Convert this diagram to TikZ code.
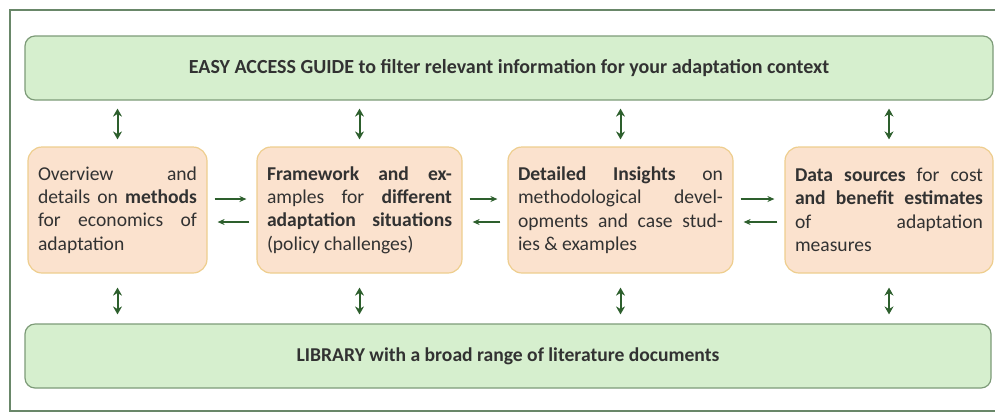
\documentclass[tikz,border=0pt]{standalone}
\usepackage{fontspec}
\setmainfont{Carlito}
\usepackage{tikz}
\usetikzlibrary{arrows.meta,positioning,calc}
\usepackage{xcolor}
\definecolor{gfill}{RGB}{214,239,206}
\definecolor{gborder}{RGB}{125,155,120}
\definecolor{ofill}{RGB}{251,226,206}
\definecolor{oborder}{RGB}{238,206,142}
\definecolor{agreen}{RGB}{45,95,45}
\definecolor{fgray}{RGB}{105,135,105}
\definecolor{tgray}{RGB}{50,50,50}

\begin{document}
\begin{tikzpicture}[x=0.5pt, y=-0.5pt,
    bar/.style={draw=gborder, fill=gfill, rounded corners=5pt, line width=0.6pt,
                minimum height=32pt, font=\fontsize{10}{12}\selectfont\bfseries, text=tgray},
    topic/.style={draw=oborder, fill=ofill, rounded corners=7pt, line width=0.6pt,
                  minimum height=63pt, inner xsep=5pt, align=justify,
                  font=\fontsize{9.8}{11.7}\selectfont, text=tgray},
    updown/.style={{Stealth[length=4pt,width=4.5pt]}-{Stealth[length=4pt,width=4.5pt]},
                   line width=1pt, agreen},
    flow/.style={-{Stealth[length=3.5pt,width=3pt]}, line width=0.6pt, agreen,
                 shorten <=3.5pt, shorten >=5pt}
]
\useasboundingbox (0,0) rectangle (995,414);

% outer frame (runs off the right edge)
\draw[fgray, line width=1pt] (1010,10) -- (10,10) -- (10,411) -- (1010,411);

% guide and library bars
\node[bar, minimum width=484pt] (guide) at (509,68)
    {EASY ACCESS GUIDE to filter relevant information for your adaptation context};
\node[bar, minimum width=483pt, font=\fontsize{9.8}{12}\selectfont\bfseries] (library) at (508,356)
    {LIBRARY with a broad range of literature documents};

% the four topics
\node[topic, text width=79.5pt] (methods) at (117.5,210)
    {Overview and\linebreak details on \textbf{methods}\linebreak
     for economics of\linebreak adaptation};
\node[topic, text width=92.5pt] (framework) at (359.5,210)
    {\textbf{Framework and ex-}\linebreak amples for \textbf{different}\linebreak
     \textbf{adaptation situations}\linebreak (policy challenges)};
\node[topic, text width=102.5pt] (insights) at (620.5,210)
    {\textbf{Detailed Insights} on\linebreak methodological devel-\linebreak
     opments and case stud-\linebreak ies \& examples};
\node[topic, text width=94pt] (data) at (889,210)
    {\textbf{Data sources} for cost\linebreak \textbf{and benefit estimates}\linebreak
     of adaptation\linebreak measures};

% links to guide and library
\foreach \t in {methods,framework,insights,data} {
  \draw[updown, shorten <=4pt, shorten >=3.5pt] (\t.north |- guide.south) -- (\t.north);
  \draw[updown, shorten <=7pt, shorten >=4.5pt] (\t.south) -- (\t.south |- library.north);
}

% links between neighbours
\draw[flow] ([yshift=5.5pt]methods.east) -- ([yshift=5.5pt]methods.east -| framework.west);
\draw[flow] ([yshift=-6pt]framework.west) -- ([yshift=-6pt]framework.west -| methods.east);
\draw[flow] ([yshift=5.5pt]framework.east) -- ([yshift=5.5pt]framework.east -| insights.west);
\draw[flow] ([yshift=-6pt]insights.west) -- ([yshift=-6pt]insights.west -| framework.east);
\draw[flow] ([yshift=5.5pt]insights.east) -- ([yshift=5.5pt]insights.east -| data.west);
\draw[flow] ([yshift=-6pt]data.west) -- ([yshift=-6pt]data.west -| insights.east);

\end{tikzpicture}
\end{document}
